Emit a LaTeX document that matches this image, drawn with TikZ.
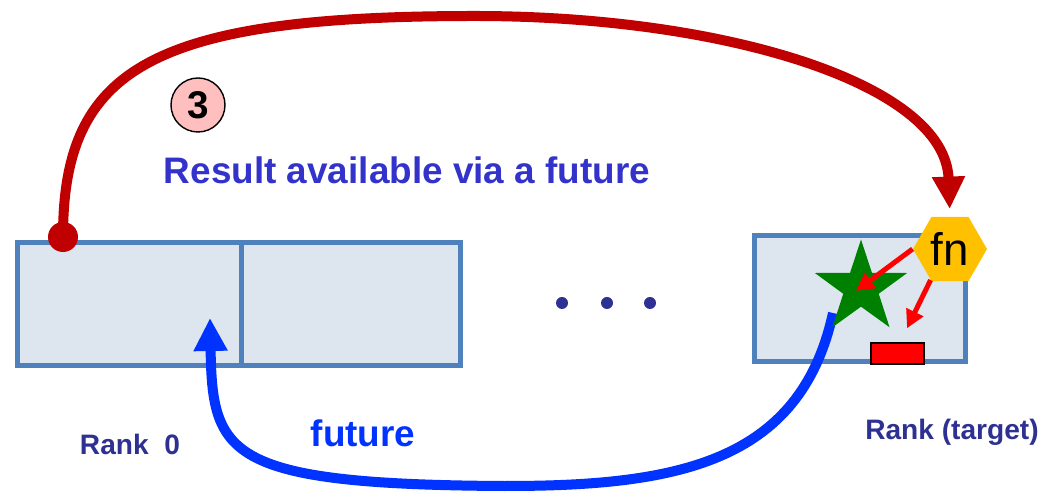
\documentclass[tikz,border=0pt]{standalone}
\usepackage{fontspec}
\setmainfont{Liberation Sans}
\usetikzlibrary{arrows.meta, shapes.geometric, positioning}
\usepackage{xcolor}
\definecolor{boxblue}{RGB}{79,129,189}
\definecolor{boxfill}{RGB}{221,229,239}
\definecolor{rpcred}{RGB}{192,0,0}
\definecolor{futblue}{RGB}{0,51,255}
\definecolor{rankblue}{RGB}{46,49,146}
\definecolor{titleblue}{RGB}{51,51,204}
\definecolor{fnyellow}{RGB}{255,192,0}
\definecolor{stargreen}{RGB}{0,128,0}

\begin{document}
\begin{tikzpicture}[
  rankbox/.style={draw=boxblue, fill=boxfill, line width=0.1cm, inner sep=0pt},
  bigarrow/.style={line width=0.2cm},
  fnarrow/.style={red, line width=0.1cm, -{Triangle[length=0.36cm, width=0.36cm]}},
  ranklabel/.style={text=rankblue, font=\fontsize{16}{19}\selectfont\bfseries}
]
  \useasboundingbox (0,0) rectangle (20.92,9.88);

  % --- memory segments ---
  \node[rankbox, minimum width=8.86cm, minimum height=2.46cm] (rank0) at (4.78,3.80) {};
  \draw[boxblue, line width=0.1cm] ([xshift=0.04cm]rank0.north) -- ([xshift=0.04cm]rank0.south);
  \node[rankbox, minimum width=4.22cm, minimum height=2.52cm] (target) at (17.20,3.91) {};

  % ellipsis between the ranks
  \foreach \x/\n in {11.24/a, 12.14/b, 13.00/c}
    \fill[rankblue] (\x,3.82) circle (0.12) coordinate (dot\n);

  % result slot on the target
  \node[draw=black, thick, fill=red, minimum width=1.06cm, minimum height=0.42cm, inner sep=0pt] (slot) at (17.95,2.81) {};

  % --- RPC going out (red) ---
  \node[circle, fill=rpcred, minimum size=0.6cm, inner sep=0pt] (src) at (1.26,5.14) {};
  \node[regular polygon, regular polygon sides=6, fill=fnyellow, minimum size=1.48cm, inner sep=0pt,
        font=\fontsize{26}{30}\selectfont] (fn) at (19.00,4.90) {fn};
  \coordinate (apex) at (9.50,9.56);
  \draw[rpcred, bigarrow, -{Triangle[length=0.65cm, width=0.62cm]}, shorten >=0.15cm]
    (src.center) .. controls (1.26,8.50) and (3.00,9.56) .. (apex)
                 .. controls (14.50,9.56) and (18.90,8.20) .. (fn.north);

  % --- future coming back (blue) ---
  \coordinate (ret) at (16.66,3.62);
  \coordinate (bottom) at (10.00,0.16);
  \coordinate (slot0) at (4.20,3.52);
  \draw[futblue, bigarrow, -{Triangle[length=0.66cm, width=0.64cm]}]
    (ret) .. controls (16.00,0.60) and (13.50,0.15) .. (bottom)
          .. controls (4.50,0.20) and (4.25,0.80) .. (slot0);

  % the function runs and fills the slot
  \node[star, star points=5, star point ratio=2.6, fill=stargreen, minimum size=1.94cm, inner sep=0pt] (res) at (17.22,4.12) {};
  \coordinate (drop) at ([xshift=0.19cm, yshift=0.28cm]slot.north);
  \draw[fnarrow] (fn.west) -- ([shift={(-0.1,-0.06)}]res.center);
  \draw[fnarrow] (fn.238) -- (drop);

  % step marker
  \node[circle, draw=black, thick, fill=pink, minimum size=1.08cm, inner sep=0pt,
        font=\fontsize{22}{26}\selectfont\bfseries] (step3) at (3.96,7.78) {3};

  % labels
  \node[text=titleblue, font=\fontsize{21}{25}\selectfont\bfseries] (title) at (8.14,6.48) {Result available via a future};
  \node[text=futblue, font=\fontsize{21}{25}\selectfont\bfseries] (futlbl) at (7.26,1.22) {future};
  \node[ranklabel] (lbl0) at (2.60,1.00) {Rank\ \ 0};
  \node[ranklabel] (lblt) at (19.04,1.24) {Rank (target)};
\end{tikzpicture}
\end{document}
